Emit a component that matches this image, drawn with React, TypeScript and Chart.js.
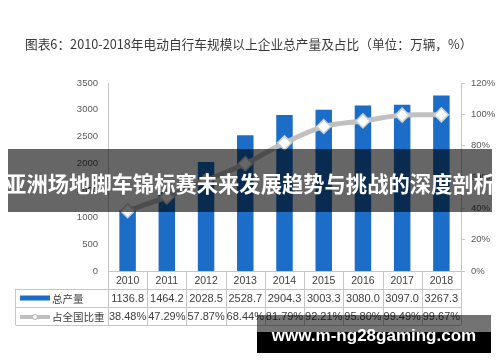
import React, { useEffect, useRef } from "react";
import { Chart, registerables } from "chart.js";

Chart.register(...registerables);

const years = ["2010", "2011", "2012", "2013", "2014", "2015", "2016", "2017", "2018"];
const output = [1136.8, 1464.2, 2028.5, 2528.7, 2904.3, 3003.3, 3080.0, 3097.0, 3267.3];
const outputLabels = ["1136.8", "1464.2", "2028.5", "2528.7", "2904.3", "3003.3", "3080.0", "3097.0", "3267.3"];
const share = [38.48, 47.29, 57.87, 68.44, 81.79, 92.21, 95.8, 99.49, 99.67];
const shareLabels = ["38.48%", "47.29%", "57.87%", "68.44%", "81.79%", "92.21%", "95.80%", "99.49%", "99.67%"];
const seriesNames = ["总产量", "占全国比重"];
const titleText = "图表6：2010-2018年电动自行车规模以上企业总产量及占比（单位：万辆，%）";
const bannerText = "亚洲场地脚车锦标赛未来发展趋势与挑战的深度剖析";
const urlText = "www.m-ng28gaming.com";

const BAR = "#1b6dc8";
const LINE = "#c0c0c0";
const GRID = "#c6c6c6";
const TXT = "#404040";
const FONT = "'Liberation Sans', 'Noto Sans CJK SC', sans-serif";

const tablePlugin = {
  id: "dataTable",
  afterDraw(chart: any) {
    const { ctx, chartArea } = chart;
    const { left, right, bottom } = chartArea;
    const xs = chart.scales.x;
    const n = years.length;
    const rowH = 18;
    const r1 = bottom;
    const r2 = bottom + rowH;
    const r3 = bottom + rowH * 2;
    const r4 = bottom + rowH * 3;
    const tLeft = 15.5;
    ctx.save();
    ctx.strokeStyle = GRID;
    ctx.lineWidth = 1;
    const line = (x1: number, y1: number, x2: number, y2: number) => {
      ctx.beginPath();
      ctx.moveTo(x1, y1);
      ctx.lineTo(x2, y2);
      ctx.stroke();
    };
    line(tLeft, Math.round(r2) + 0.5, right, Math.round(r2) + 0.5);
    line(tLeft, Math.round(r3) + 0.5, right, Math.round(r3) + 0.5);
    line(tLeft, Math.round(r4) + 0.5, right, Math.round(r4) + 0.5);
    for (let i = 0; i <= n; i++) {
      const xx = Math.round(left + (i * (right - left)) / n) + 0.5;
      line(xx, r1, xx, r4);
    }
    line(tLeft, r2, tLeft, r4);

    ctx.fillStyle = TXT;
    ctx.textAlign = "center";
    ctx.textBaseline = "middle";
    for (let i = 0; i < n; i++) {
      const cx = xs.getPixelForValue(i);
      ctx.font = `10.5px ${FONT}`;
      ctx.fillText(years[i], cx, (r1 + r2) / 2 + 1);
      ctx.font = `11px ${FONT}`;
      ctx.fillText(outputLabels[i], cx, (r2 + r3) / 2 + 1);
      ctx.fillText(shareLabels[i], cx, (r3 + r4) / 2 + 1);
    }
    const m2 = (r2 + r3) / 2;
    const m3 = (r3 + r4) / 2;
    ctx.fillStyle = BAR;
    ctx.fillRect(20, m2 - 2.5, 30, 5);
    ctx.strokeStyle = LINE;
    ctx.lineWidth = 4;
    line(20, m3 + 1, 50, m3 + 1);
    ctx.beginPath();
    ctx.arc(35, m3 + 1, 2.5, 0, Math.PI * 2);
    ctx.fillStyle = "#ffffff";
    ctx.fill();
    ctx.lineWidth = 1;
    ctx.strokeStyle = "#b0b0b0";
    ctx.stroke();
    ctx.fillStyle = TXT;
    ctx.textAlign = "left";
    ctx.font = `10.5px 'Noto Sans CJK SC', sans-serif`;
    ctx.fillText(seriesNames[0], 52, m2 + 1);
    ctx.fillText(seriesNames[1], 52, m3 + 1);
    ctx.strokeStyle = GRID;
    line(Math.round(left) + 0.5, r1, Math.round(left) + 0.5, r4);
    ctx.restore();
  },
};

export default function App() {
  const ref = useRef<HTMLCanvasElement | null>(null);
  useEffect(() => {
    if (!ref.current) return;
    const chart = new Chart(ref.current, {
      type: "bar",
      data: {
        labels: years,
        datasets: [
          {
            type: "line",
            label: seriesNames[1],
            data: share,
            yAxisID: "y1",
            borderColor: LINE,
            borderWidth: 5,
            tension: 0.35,
            pointStyle: "rectRot",
            pointRadius: 7,
            pointBackgroundColor: "#ffffff",
            pointBorderColor: "#cfcfcf",
            pointBorderWidth: 1.5,
            order: 0,
          } as any,
          {
            type: "bar",
            label: seriesNames[0],
            data: output,
            yAxisID: "y",
            backgroundColor: BAR,
            categoryPercentage: 1,
            barPercentage: 0.42,
            order: 1,
          },
        ],
      },
      options: {
        responsive: false,
        animation: false,
        devicePixelRatio: 1,
        layout: { padding: { top: 83, left: 0, right: 0, bottom: 0 } },
        plugins: { legend: { display: false }, tooltip: { enabled: false }, title: { display: false } },
        scales: {
          x: {
            grid: { display: false },
            border: { display: true, color: GRID },
            ticks: { display: false },
            afterFit: (s: any) => {
              s.height = 91;
            },
          },
          y: {
            position: "left",
            min: 0,
            max: 3500,
            grid: { display: false, drawTicks: false },
            border: { display: true, color: GRID },
            ticks: {
              stepSize: 500,
              padding: 10,
              color: "#595959",
              font: { size: 9.5, family: FONT },
              callback: (v: any) => String(v),
            },
            afterFit: (s: any) => {
              s.width = 108;
            },
          },
          y1: {
            position: "right",
            min: 0,
            max: 120,
            grid: { drawOnChartArea: false, drawTicks: true, tickLength: 4, color: GRID },
            border: { display: true, color: GRID },
            ticks: {
              stepSize: 20,
              padding: 6,
              color: "#595959",
              font: { size: 9.5, family: FONT },
              callback: (v: any) => `${v}%`,
            },
            afterFit: (s: any) => {
              s.width = 39;
            },
          },
        },
      },
      plugins: [tablePlugin],
    });
    return () => chart.destroy();
  }, []);

  return (
    <div style={{ position: "fixed", left: 0, top: 0, width: 500, height: 362, background: "#ffffff", overflow: "hidden" }}>
      <canvas ref={ref} width={500} height={362} style={{ position: "absolute", left: 0, top: 0 }} />
      <div
        style={{
          position: "absolute",
          left: 25,
          top: 36,
          fontFamily: "'Noto Sans CJK SC', sans-serif",
          fontSize: 12.7,
          lineHeight: "16px",
          color: "#3a3a3a",
          whiteSpace: "nowrap",
        }}
      >
        {titleText}
      </div>
      <div
        style={{
          position: "absolute",
          left: 8,
          top: 149,
          width: 484,
          height: 63,
          background: "rgba(0,0,0,0.6)",
          display: "flex",
          alignItems: "center",
          justifyContent: "center",
          paddingTop: 4,
          boxSizing: "border-box",
          color: "#ffffff",
          fontFamily: "'Noto Sans CJK SC', sans-serif",
          fontWeight: 700,
          fontSize: 21.3,
          whiteSpace: "nowrap",
        }}
      >
        {bannerText}
      </div>
      <div style={{ position: "absolute", left: 257, top: 315, width: 234, height: 17, background: "rgba(0,0,0,0.55)" }} />
      <div style={{ position: "absolute", left: 257, top: 332, width: 234, height: 21, background: "#000000" }} />
      <div
        style={{
          position: "absolute",
          left: 257,
          top: 326,
          width: 234,
          textAlign: "center",
          fontFamily: "'Liberation Sans', sans-serif",
          fontWeight: 700,
          fontSize: 17,
          lineHeight: "20px",
          color: "#ffffff",
          whiteSpace: "nowrap",
        }}
      >
        {urlText}
      </div>
    </div>
  );
}
